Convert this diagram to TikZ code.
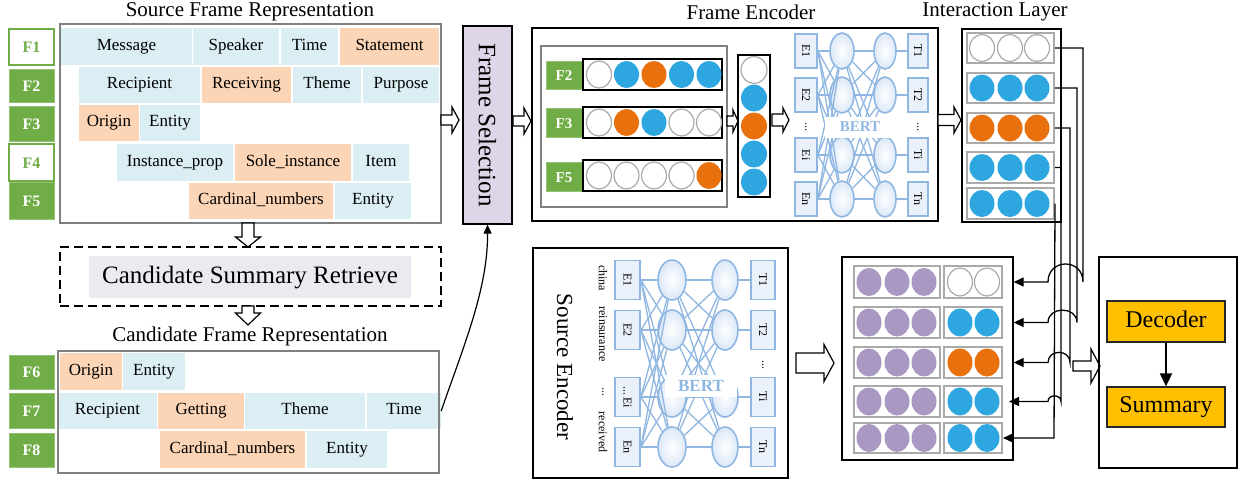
\documentclass[tikz,border=0pt]{standalone}
\usepackage{fontspec}
\setmainfont{Liberation Serif}
\usepackage{graphicx}
\usetikzlibrary{fit,arrows.meta,calc,shapes.geometric}

\definecolor{cb}{RGB}{218,238,243}
\definecolor{co}{RGB}{251,213,181}
\definecolor{fgreen}{RGB}{112,173,71}
\definecolor{dblue}{RGB}{46,167,224}
\definecolor{dorange}{RGB}{232,113,14}
\definecolor{dpurple}{RGB}{168,152,194}
\definecolor{fsel}{RGB}{222,214,232}
\definecolor{bline}{RGB}{143,183,226}
\definecolor{bfill}{RGB}{220,232,248}
\definecolor{csrc}{RGB}{236,233,241}
\definecolor{decyel}{RGB}{255,192,0}
\definecolor{gborder}{RGB}{128,128,128}
\definecolor{lgray}{RGB}{170,170,170}

\newcommand{\cellat}[7]{\node[#1, anchor=center, minimum width={#5-#3}, minimum height={#6-#4}] (#2) at ({(#3+#5)/2},{(#4+#6)/2}) {#7};}
\newcommand{\harr}[6]{\draw[hol] ({#1},{#3-#4}) -- ({#2-#6},{#3-#4}) -- ({#2-#6},{#3-#5}) -- ({#2},{#3}) -- ({#2-#6},{#3+#5}) -- ({#2-#6},{#3+#4}) -- ({#1},{#3+#4}) -- cycle;}
\newcommand{\varr}[6]{\draw[hol] ({#3-#4},{#1}) -- ({#3-#4},{#2-#6}) -- ({#3-#5},{#2-#6}) -- ({#3},{#2}) -- ({#3+#5},{#2-#6}) -- ({#3+#4},{#2-#6}) -- ({#3+#4},{#1}) -- cycle;}

\begin{document}
\begin{tikzpicture}[x=1pt,y=-1pt,
  every node/.style={inner sep=0pt},
  ttl/.style={font=\fontsize{21}{23}\selectfont},
  cellb/.style={fill=cb, text height=11.5pt, text depth=4pt, font=\fontsize{17}{19}\selectfont},
  cello/.style={cellb, fill=co},
  flabg/.style={fill=fgreen, draw=fgreen!75!white, line width=1pt, text=white, font=\bfseries\fontsize{16}{18}\selectfont, text height=11pt, text depth=0pt},
  flabw/.style={flabg, fill=white, draw=fgreen, line width=1.5pt, text=fgreen},
  gbox/.style={draw=gborder, line width=1.2pt},
  bbox/.style={draw=black, line width=1.3pt},
  rowg/.style={draw=lgray, line width=2pt},
  hol/.style={draw=black, fill=white, line width=1.2pt},
  ebox/.style={draw=bline, line width=1.8pt, fill=bfill!60!white, font=\fontsize{12}{13}\selectfont},
  bell/.style={ellipse, draw=bline, line width=1.6pt, inner color=white, outer color=bfill},
  bertline/.style={draw=bline, line width=1.3pt},
  bertlab/.style={fill=white, text=bline, font=\bfseries\fontsize{15}{17}\selectfont},
  wrd/.style={rotate=-90, font=\fontsize{12}{13}\selectfont},
  dW/.style={fill=white, draw=lgray, line width=1.2pt},
  dB/.style={fill=dblue},
  dO/.style={fill=dorange},
  dP/.style={fill=dpurple},
  con/.style={draw=black, line width=1.3pt, -{Triangle[length=10pt,width=9pt]}},
  decb/.style={fill=decyel, draw=black!85, line width=1.3pt, font=\fontsize{24}{26}\selectfont, text height=16pt, text depth=5pt}
]
\useasboundingbox[fill=white] (0,0) rectangle (1242,483);

% ---------- titles
\node[ttl] (tsrc) at (250,12) {Source Frame Representation};
\node[ttl] (tfe) at (751,12) {Frame Encoder};
\node[ttl] (til) at (995,12) {Interaction Layer};
\node[ttl] (tcand) at (250,336) {Candidate Frame Representation};

% ---------- source frame representation
\node[gbox, fit={(60,24)(441,223)}] (src) {};
\cellat{flabw}{f1}{9}{29}{54}{65}{F1}
\cellat{flabg}{f2}{9}{69}{54}{102}{F2}
\cellat{flabg}{f3}{9}{106}{54}{141}{F3}
\cellat{flabw}{f4}{9}{144}{54}{181}{F4}
\cellat{flabg}{f5}{9}{182}{54}{219}{F5}

\cellat{cellb}{msg}{61}{28}{192}{65}{Message}
\cellat{cellb}{spk}{193}{28}{279}{65}{Speaker}
\cellat{cellb}{tim1}{281}{28}{338}{65}{Time}
\cellat{cello}{stm}{340}{28}{439}{65}{Statement}

\cellat{cellb}{rcp}{79}{67}{200}{103}{Recipient}
\cellat{cello}{rcv}{202}{67}{291}{103}{Receiving}
\cellat{cellb}{thm}{293}{67}{361}{103}{Theme}
\cellat{cellb}{prp}{363}{67}{439}{103}{Purpose}

\cellat{cello}{org}{79}{105}{139}{141}{Origin}
\cellat{cellb}{ent3}{140}{105}{200}{141}{Entity}

\cellat{cellb}{ins}{117}{144}{233}{181}{Instance\_prop}
\cellat{cello}{sol}{235}{144}{351}{181}{Sole\_instance}
\cellat{cellb}{itm}{353}{144}{409}{181}{Item}

\cellat{cello}{car5}{189}{183}{333}{219}{Cardinal\_numbers}
\cellat{cellb}{ent5}{335}{183}{411}{219}{Entity}

% ---------- candidate summary retrieve
\node[draw, dash pattern=on 9pt off 5pt, line width=1.3pt, fit={(60,247)(441,306)}] (csrbox) {};
\cellat{fill=csrc, font=\fontsize{25}{27}\selectfont, text height=17pt, text depth=5pt}{csr}{89}{256}{411}{298}{Candidate Summary Retrieve}
\varr{223}{247}{248}{6}{12.5}{10}
\varr{306}{325}{248}{6}{12.5}{12}

% ---------- candidate frame representation
\cellat{flabg}{f6}{9}{355}{54}{389}{F6}
\cellat{flabg}{f7}{9}{393}{54}{428}{F7}
\cellat{flabg}{f8}{9}{433}{54}{467}{F8}

\cellat{cello}{org6}{60}{353}{122}{390}{Origin}
\cellat{cellb}{ent6}{123}{353}{185}{390}{Entity}
\cellat{cellb}{rcp7}{58}{393}{157}{429}{Recipient}
\cellat{cello}{get7}{158}{393}{244}{429}{Getting}
\cellat{cellb}{thm7}{245}{393}{365}{429}{Theme}
\cellat{cellb}{tm7}{367}{393}{441}{429}{Time}
\cellat{cello}{car8}{160}{431}{305}{468}{Cardinal\_numbers}
\cellat{cellb}{ent8}{307}{431}{387}{468}{Entity}
\node[gbox, fit={(58,351)(439,473)}] (cand) {};

% ---------- frame selection
\node[draw, line width=1.2pt, fill=fsel, fit={(463,26)(512,224)}] (fs) {};
\node[rotate=-90, font=\fontsize{25}{27}\selectfont] (fslab) at (fs.center) {Frame Selection};
\harr{441}{459}{120}{5}{13}{7}
\harr{513}{531}{121}{5}{13}{7}
\draw[line width=1.2pt, -{Triangle[length=9pt,width=8pt]}] (tm7.east) .. controls (462,350) and (488,290) .. (fs.south);

% ---------- frame encoder
\node[bbox, fit={(532,28)(938,221)}] (fe) {};
\node[gbox, fit={(541,46)(727,207)}] (feg) {};
\cellat{flabg, font=\bfseries\fontsize{15}{17}\selectfont}{fe2}{546}{61}{582}{89}{F2}
\cellat{flabg, font=\bfseries\fontsize{15}{17}\selectfont}{fe3}{546}{108}{582}{137}{F3}
\cellat{flabg, font=\bfseries\fontsize{15}{17}\selectfont}{fe5}{546}{162}{582}{191}{F5}
\node[bbox, fit={(583,59)(722,90)}] (fr2) {};
\node[bbox, fit={(583,107)(722,138)}] (fr3) {};
\node[bbox, fit={(583,160)(722,191)}] (fr5) {};
\foreach \xx/\st in {599/dW,626.5/dB,654/dO,681.5/dB,709/dB}
  \path[\st] (\xx,74.5) ellipse [x radius=12.5pt, y radius=13.5pt];
\foreach \xx/\st in {599/dW,626.5/dO,654/dB,681.5/dW,709/dW}
  \path[\st] (\xx,122.5) ellipse [x radius=12.5pt, y radius=13.5pt];
\foreach \xx/\st in {599/dW,626.5/dW,654/dW,681.5/dW,709/dO}
  \path[\st] (\xx,175.5) ellipse [x radius=12.5pt, y radius=13.5pt];

\node[bbox, fit={(738,55)(770,197)}] (col) {};
\foreach \yy/\st in {70/dW,98/dB,126/dO,154/dB,182/dB}
  \path[\st] (754,\yy) ellipse [x radius=13pt, y radius=13.5pt];
\harr{727}{738}{121}{5}{11}{5}
\harr{772}{789}{120}{6}{12}{6}

% BERT (frame encoder)
\foreach \i/\yy/\lab/\tl in {1/51/E1/T1,2/95/E2/T2,3/155/Ei/Ti,4/199/En/Tn}{
  \node[ebox, minimum width=22pt, minimum height=34pt] (fee\i) at (806,\yy) {\rotatebox{-90}{\lab}};
  \node[bell, minimum width=24pt, minimum height=36pt] (fea\i) at (842,\yy) {};
  \node[bell, minimum width=22pt, minimum height=36pt] (feb\i) at (885,\yy) {};
  \node[ebox, minimum width=20pt, minimum height=34pt] (fet\i) at (918,\yy) {\rotatebox{-90}{\tl}};
}
\foreach \i in {1,...,4}{
  \foreach \j in {1,...,4}{
    \draw[bertline] (fee\i.east) -- (fea\j);
    \draw[bertline] (fea\i) -- (feb\j);
  }
  \draw[bertline] (feb\i) -- (fet\i);
}
\node[wrd] (fedots1) at (806,127) {...};
\node[wrd] (fedots2) at (918,127) {...};
\node[bertlab, minimum width=70pt, minimum height=21pt] (febert) at (860,127) {BERT};

% ---------- interaction layer
\harr{938}{961}{120}{5.5}{13}{7}
\node[bbox, fit={(962,29)(1061,222)}] (il) {};
\foreach \i/\ya/\yb in {1/33/63,2/73/103,3/113/143,4/152/183,5/188/219}
  \node[rowg, fit={(967,\ya)(1054,\yb)}] (il\i) {};
\foreach \yy/\st in {48/dW,88/dB,128/dO,167.5/dB,203.5/dB}{
  \foreach \xx in {982,1010,1037}
    \path[\st] (\xx,\yy) ellipse [x radius=12.5pt, y radius=13.5pt];
}

% ---------- source encoder
\node[bbox, fit={(533,248)(788,478)}] (se) {};
\node[rotate=-90, font=\fontsize{23}{25}\selectfont] (selab) at (565,367) {Source Encoder};
\node[wrd] (w1) at (603,278) {china};
\node[wrd] (w2) at (603,334) {reinsurance};
\node[wrd] (w3) at (603,392) {...};
\node[wrd] (w4) at (603,432) {received};
\foreach \i/\yy/\lab/\tl in {1/280/E1/T1,2/330/E2/T2,3/397/{...\,Ei}/Ti,4/447/En/Tn}{
  \node[ebox, minimum width=25pt, minimum height=39pt] (see\i) at (627.5,\yy) {\rotatebox{-90}{\lab}};
  \node[bell, minimum width=28pt, minimum height=40pt] (sea\i) at (672,\yy) {};
  \node[bell, minimum width=26pt, minimum height=40pt] (seb\i) at (725,\yy) {};
  \node[ebox, minimum width=24pt, minimum height=39pt] (set\i) at (763,\yy) {\rotatebox{-90}{\tl}};
}
\foreach \i in {1,...,4}{
  \foreach \j in {1,...,4}{
    \draw[bertline] (see\i.east) -- (sea\j);
    \draw[bertline] (sea\i) -- (seb\j);
  }
  \draw[bertline] (seb\i) -- (set\i);
}
\node[wrd] (sedots) at (763,365) {...};
\node[bertlab, font=\bfseries\fontsize{17}{19}\selectfont, minimum width=72pt, minimum height=22pt] (sebert) at (701,386) {BERT};

% ---------- combined matrix
\harr{796}{834}{363}{10}{18.5}{10}
\node[bbox, fit={(842,257)(1013,460)}] (mat) {};
\foreach \i/\ya/\yb in {1/266/298,2/307/338,3/347/378,4/386/417,5/423/453}{
  \node[rowg, fit={(854,\ya)(940,\yb)}] (ml\i) {};
  \node[rowg, fit={(944,\ya)(1002,\yb)}] (mr\i) {};
}
\foreach \yy/\st in {282/dW,322.5/dB,362.5/dO,401.5/dB,438/dB}{
  \foreach \xx in {869,897,924}
    \path[dP] (\xx,\yy) ellipse [x radius=12.5pt, y radius=14pt];
  \foreach \xx in {960,987}
    \path[\st] (\xx,\yy) ellipse [x radius=12.5pt, y radius=14pt];
}

% ---------- connectors interaction layer -> matrix
\draw[con] (il1.east) -- (1083,48) -- (1083,282) .. controls (1083,258) and (1048,258) .. (1048,282) -- (mr1.east -| mat.east);
\draw[con] (il2.east) -- (1077,88) -- (1077,322.5) .. controls (1077,306) and (1048,306) .. (1048,322.5) -- (mr2.east -| mat.east);
\draw[con] (il3.east) -- (1070,128) -- (1070,362.5) .. controls (1070,349) and (1048,349) .. (1048,362.5) -- (mr3.east -| mat.east);
\draw[con] (il4.east) -- (1061,167.5) -- (1061,401.5) .. controls (1061,394) and (1048,394) .. (1048,401.5) -- ([xshift=6pt]mr4.east);
\draw[con] (il5.east) -- (1054,438) -- (mr5.east);

% ---------- decoder
\harr{1073}{1100}{366}{5}{17}{9}
\node[bbox, fit={(1099,257)(1237,468)}] (dpan) {};
\cellat{decb}{dec}{1107}{301}{1225}{342}{Decoder}
\cellat{decb}{summ}{1107}{387}{1225}{427}{Summary}
\draw[line width=1.8pt, -{Triangle[length=13pt,width=12pt]}] (dec.south) -- (summ.north);
\end{tikzpicture}
\end{document}
